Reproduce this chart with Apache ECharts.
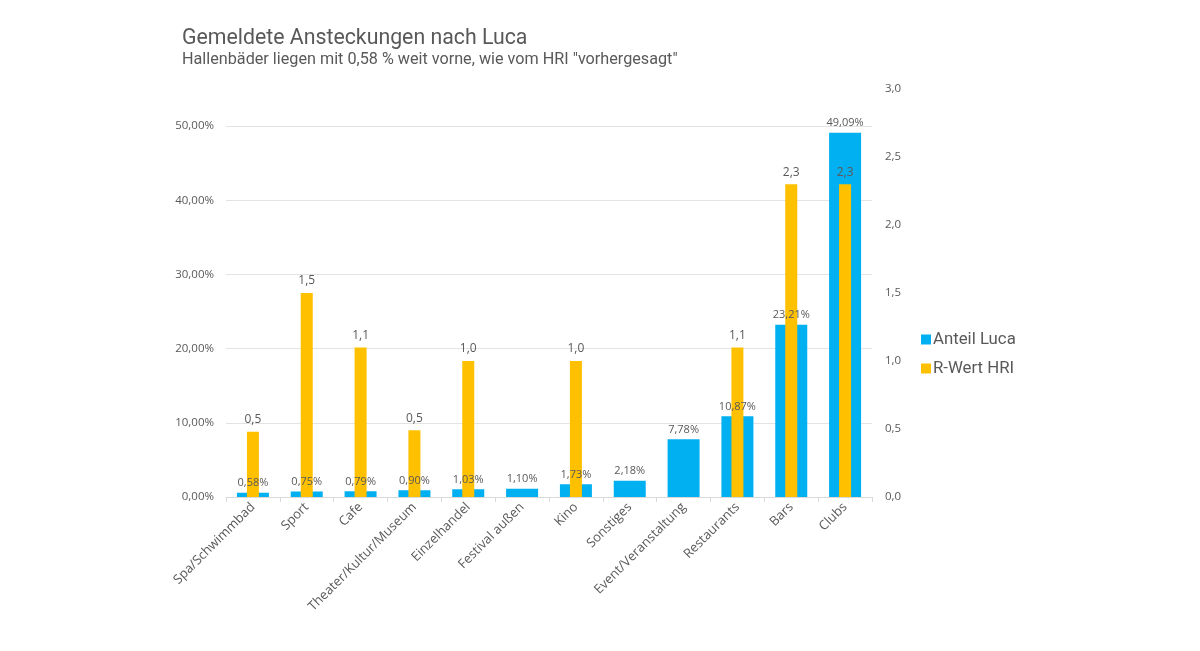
<!DOCTYPE html>
<html>
<head>
<meta charset="utf-8">
<script src="https://cdn.jsdelivr.net/npm/echarts@6/dist/echarts.min.js"></script>
<style>
html,body{margin:0;padding:0;background:#fff;}
#chart{width:1200px;height:651px;}
</style>
</head>
<body>
<div id="chart"></div>
<script>
const categories = ['Spa/Schwimmbad','Sport','Cafe','Theater/Kultur/Museum','Einzelhandel','Festival außen','Kino','Sonstiges','Event/Veranstaltung','Restaurants','Bars','Clubs'];
const anteilLuca = [0.58,0.75,0.79,0.90,1.03,1.10,1.73,2.18,7.78,10.87,23.21,49.09];
const rWertHRI = [0.48,1.5,1.1,0.49,1.0,null,1.0,null,null,1.1,2.3,2.3];
const leftTicks = {min:0,max:55,interval:10};
const rightTicks = {min:0,max:3,interval:0.5};

const gray = '#595959';
const labelFont = '"Open Sans", "Liberation Sans", sans-serif';
const titleFont = 'Roboto, "Noto Sans", sans-serif';

const chart = echarts.init(document.getElementById('chart'), null, {renderer:'canvas'});
chart.setOption({
  animation:false,
  backgroundColor:'#fff',
  title:{
    text:'Gemeldete Ansteckungen nach Luca',
    subtext:'Hallenbäder liegen mit 0,58 % weit vorne, wie vom HRI "vorhergesagt"',
    left:177, top:23,
    itemGap:3,
    textStyle:{fontFamily:titleFont,fontSize:21.3,fontWeight:'normal',color:gray},
    subtextStyle:{fontFamily:titleFont,fontSize:16.2,color:gray}
  },
  legend:{
    orient:'vertical',
    left:916, top:326,
    itemWidth:10, itemHeight:10, itemGap:12,
    icon:'rect',
    textStyle:{fontFamily:titleFont,fontSize:16.8,color:gray,padding:[0,0,0,-3]},
    data:['Anteil Luca','R-Wert HRI']
  },
  grid:{left:226,right:328,top:89,bottom:154,containLabel:false},
  xAxis:[{
    type:'category', data:categories,
    axisLine:{lineStyle:{color:'#d9d9d9'}},
    axisTick:{show:true,length:5,lineStyle:{color:'#d9d9d9'}},
    axisLabel:{rotate:45,interval:0,margin:8,fontFamily:labelFont,fontSize:13,color:gray}
  },{
    type:'category', data:categories, show:false
  }],
  yAxis:[{
    type:'value', min:leftTicks.min, max:leftTicks.max, interval:leftTicks.interval,
    axisLine:{show:false}, axisTick:{show:false},
    axisLabel:{margin:12,fontFamily:labelFont,fontSize:11.5,color:gray,showMaxLabel:false,
      formatter:v=> v>50 ? '' : v.toFixed(2).replace('.',',')+'%'},
    splitLine:{show:true,showMaxLine:false,lineStyle:{color:'#e3e3e3'}}
  },{
    type:'value', min:rightTicks.min, max:rightTicks.max, interval:rightTicks.interval,
    position:'right',
    axisLine:{show:false}, axisTick:{show:false},
    axisLabel:{margin:13,fontFamily:labelFont,fontSize:11.5,color:gray,
      formatter:v=>v.toFixed(1).replace('.',',')},
    splitLine:{show:false}
  }],
  series:[{
    name:'Anteil Luca', type:'bar', xAxisIndex:0, yAxisIndex:0,
    data:anteilLuca, barWidth:32,
    itemStyle:{color:'#00B0F0'},
    label:{show:true,position:'top',distance:4,fontFamily:labelFont,fontSize:11,color:gray,
      formatter:p=>p.value.toFixed(2).replace('.',',')+'%'}
  },{
    name:'R-Wert HRI', type:'bar', xAxisIndex:1, yAxisIndex:1,
    data:rWertHRI, barWidth:12,
    itemStyle:{color:'#FFC000'},
    label:{show:true,position:'top',distance:6,fontFamily:labelFont,fontSize:12,color:gray,
      formatter:p=>p.value==null?'':p.value.toFixed(1).replace('.',',')}
  }]
});
</script>
</body>
</html>
